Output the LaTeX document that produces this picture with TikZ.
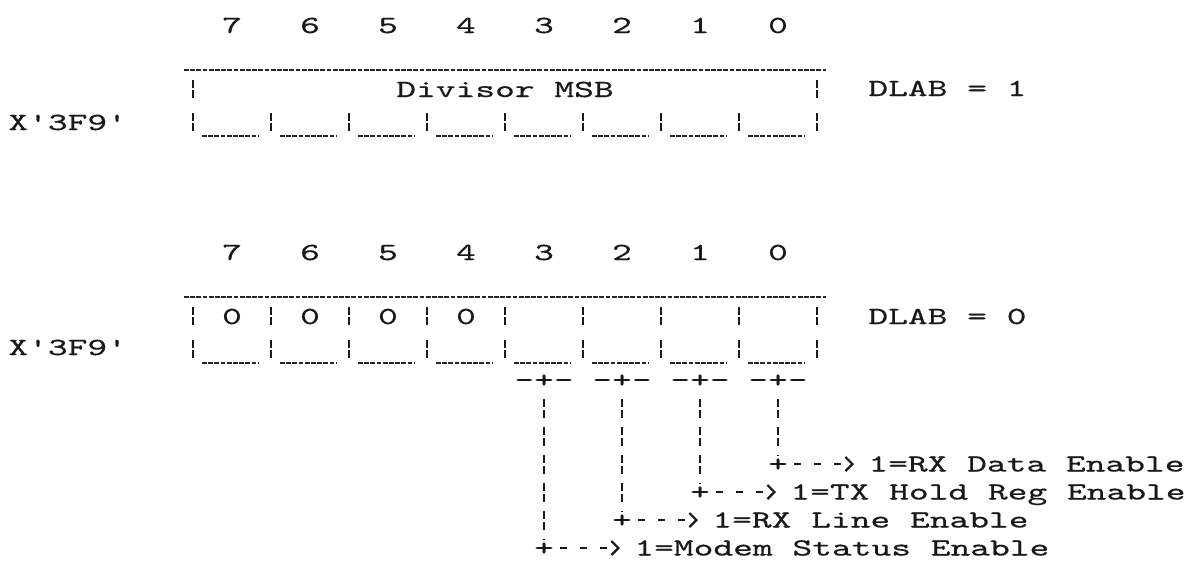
\documentclass[tikz,border=0pt]{standalone}
\usepackage{fontspec}
\newfontfamily\dotfont[Extension=.otf, FakeStretch=1.53, FakeBold=0.45]{lmmono10-regular}
\usetikzlibrary{arrows.meta}

\begin{document}
\begin{tikzpicture}[
    x=0.5pt, y=-0.5pt, % one unit = one pixel of the printout, y runs down
    every node/.style={font=\dotfont\fontsize{12.3pt}{14pt}\selectfont, text=black!90, inner sep=0pt},
    lbl/.style={text height=7.5pt, text depth=0pt},
    dotrule/.style={black!85, line width=0.8pt, dash pattern=on 2.4pt off 0.7pt},
    dotbar/.style={black!90, line width=1.4pt, dash pattern=on 3.8pt off 1.4pt},
    tapdown/.style={black!90, line width=1.3pt, dash pattern=on 4pt off 1.5pt on 4pt off 4.5pt},
    tapright/.style={black!90, line width=1.1pt, dash pattern=on 3.5pt off 6.5pt,
        -{Straight Barb[length=3.5pt, width=7pt]}}
]

    \fill[white] (0,0) rectangle (1200,580);
    \useasboundingbox (0,0) rectangle (1200,580);

    % --- 1. SHARED VALUES ---
    \def\xL{193} % left edge of bit 7
    \def\cw{78}  % width of one bit cell

    % --- 2. MACRO FOR ONE REGISTER FRAME ---
    % #1 = y of the top rule, #2 = bars in the upper row
    \def\regframe#1#2{
        \draw[dotrule] (184,#1) -- (826,#1);
        \foreach \i in {#2} \draw[dotbar] ({\xL+\cw*\i},#1+10) -- ++(0,18);
        \foreach \i in {0,...,8} \draw[dotbar] ({\xL+\cw*\i},#1+43) -- ++(0,19);
        \foreach \i in {0,...,7} \draw[dotrule] ({\xL+\cw*\i+9},#1+66) -- ++(56,0);
    }

    % ==========================================
    % REGISTER 1: DLAB = 1
    % ==========================================
    \regframe{70}{0,8}
    \foreach \b [evaluate=\b as \cx using {232+78*(7-\b)}] in {0,...,7}
        \node[anchor=base] (ta\b) at (\cx,33) {\b};
    \node[anchor=base] (msb) at (505,97) {Divisor MSB};
    \node[anchor=base west] (dlabA) at (868,96) {DLAB = 1};
    \node[anchor=base west] (adrA) at (8,130) {X'3F9'};

    % ==========================================
    % REGISTER 2: DLAB = 0
    % ==========================================
    \regframe{297}{0,...,8}
    \foreach \b [evaluate=\b as \cx using {232+78*(7-\b)}] in {0,...,7}
        \node[anchor=base] (tb\b) at (\cx,260) {\b};
    \foreach \b [evaluate=\b as \cx using {232+78*(7-\b)}] in {4,...,7}
        \node[anchor=base] (z\b) at (\cx,324) {0};
    \node[anchor=base west] (dlabB) at (868,324) {DLAB = 0};
    \node[anchor=base west] (adrB) at (8,355) {X'3F9'};

    % Bit taps and their meanings
    \foreach \b/\cy/\txt in {0/464/1=RX Data Enable, 1/492/1=TX Hold Reg Enable,
                             2/520/1=RX Line Enable, 3/548/1=Modem Status Enable} {
        \pgfmathsetmacro\cx{232+78*(7-\b)}
        \node[lbl] (tp\b) at (\cx,380) {-{}+{}-};
        \node[lbl] (cp\b) at (\cx,\cy) {+};
        \node[lbl, anchor=west] (en\b) at (\cx+90,\cy) {\txt};
        \draw[tapdown, shorten <=5.75pt] (tp\b.south) -- (cp\b.north);
        \draw[tapright, shorten <=3pt, shorten >=7pt] (cp\b.east) -- (en\b.west);
    }

\end{tikzpicture}
\end{document}
